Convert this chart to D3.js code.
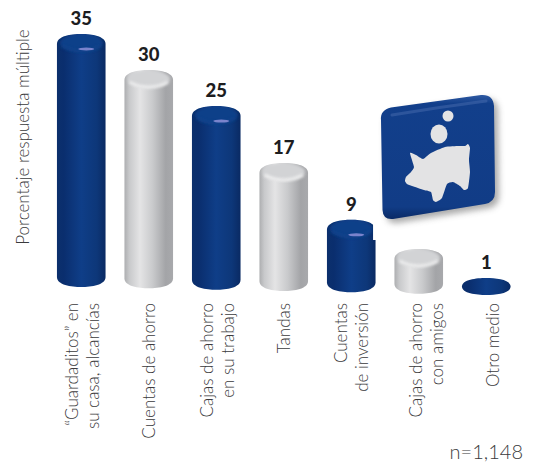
<!DOCTYPE html>
<html>
<head>
<meta charset="utf-8">
<script src="https://cdn.jsdelivr.net/npm/d3@7"></script>
<style>
  html, body { margin: 0; padding: 0; background: #fff; }
  svg { display: block; }
  text { font-family: Lato, "Open Sans", sans-serif; }
</style>
</head>
<body>
<div id="chart"></div>
<script>
// Savings methods, multiple-response percentages
const categories = [
  ["\u201CGuardaditos\u201D en", "su casa, alcancías"],
  ["Cuentas de ahorro"],
  ["Cajas de ahorro", "en su trabajo"],
  ["Tandas"],
  ["Cuentas", "de inversión"],
  ["Cajas de ahorro", "con amigos"],
  ["Otro medio"]
];
const values = [35, 30, 25, 17, 9, 5, 1];
const seriesTone = ["blue", "grey", "blue", "grey", "blue", "grey", "blue"];
const yAxisTitle = "Porcentaje respuesta múltiple";
const sampleNote = "n=1,148";

const width = 533, height = 462;
const svg = d3.select("#chart").append("svg")
  .attr("width", width).attr("height", height);
const defs = svg.append("defs");

// The row of cylinders sits on a slightly tilted floor
const x = d3.scaleBand().domain(d3.range(values.length)).range([47.5, 520]).paddingInner(0.28).paddingOuter(0.14);
const floor = d3.scaleLinear().domain([0, values.length - 1]).range([287, 295]);
const barHeight = d3.scaleLinear().domain([0, 35]).range([10, 253]);

function hGradient(id, stops) {
  const g = defs.append("linearGradient").attr("id", id)
    .attr("x1", 0).attr("x2", 1).attr("y1", 0).attr("y2", 0);
  stops.forEach(([o, c]) => g.append("stop").attr("offset", o).attr("stop-color", c));
}
hGradient("body-blue", [[0, "#0b2f6c"], [0.14, "#0a2e6e"], [0.5, "#0f3e88"], [0.82, "#0d3779"], [1, "#0a2a63"]]);
hGradient("body-grey", [[0, "#adaeb0"], [0.1, "#c8c9cb"], [0.32, "#e4e4e5"], [0.58, "#c9cacc"], [0.85, "#a3a4a7"], [1, "#a8a9ac"]]);

const softEdge = defs.append("filter").attr("id", "soft").attr("x", "-20%").attr("y", "-60%").attr("width", "140%").attr("height", "220%");
softEdge.append("feGaussianBlur").attr("stdDeviation", 1.6);

const capColors = {
  blue: { face: "#114089", rim: "#14468f", rimOpacity: 0.55, streak: "#8d8fd8" },
  grey: { face: "#d2d3d5", rim: "#f4f4f4", rimOpacity: 0.95, streak: null }
};

const bars = svg.append("g").selectAll("g")
  .data(values.map((v, i) => ({ v, i, tone: seriesTone[i], cat: categories[i] })))
  .join("g");

// Cylinder outline: soft dome on top, shallower curve at the foot
function cylinderPath(cx, rx, top, bottom, ry) {
  const k = 0.2 * ry, s = 0.42 * rx;
  return `M${cx - rx},${top + ry}` +
    `C${cx - rx},${top + k} ${cx - s},${top} ${cx},${top}` +
    `C${cx + s},${top} ${cx + rx},${top + k} ${cx + rx},${top + ry}` +
    `L${cx + rx},${bottom - ry}` +
    `C${cx + rx},${bottom - k} ${cx + s},${bottom} ${cx},${bottom}` +
    `C${cx - s},${bottom} ${cx - rx},${bottom - k} ${cx - rx},${bottom - ry}Z`;
}

bars.each(function (d) {
  const g = d3.select(this);
  const cx = x(d.i) + x.bandwidth() / 2;
  const rx = x.bandwidth() / 2;
  const bottom = floor(d.i);
  const top = bottom - barHeight(d.v);
  const ry = Math.min(10, (bottom - top) / 2);
  const outline = cylinderPath(cx, rx, top, bottom, ry);
  const clipId = `clip-bar-${d.i}`;
  defs.append("clipPath").attr("id", clipId).append("path").attr("d", outline);
  g.append("path").attr("d", outline).attr("fill", `url(#body-${d.tone})`);

  d.top = top; d.cx = cx;
  if (d.v <= 1) return;   // the flattest bar is only a disc

  // Top face, with a soft light arc along its lower edge
  const colors = capColors[d.tone];
  const cap = g.append("g").attr("clip-path", `url(#${clipId})`);
  cap.append("ellipse")
    .attr("cx", cx).attr("cy", top + ry - 1).attr("rx", rx - 3).attr("ry", ry - 1)
    .attr("fill", colors.face).attr("filter", "url(#soft)");
  cap.append("path")
    .attr("d", `M${cx - rx + 5},${top + ry + 2}Q${cx},${top + 2.1 * ry + 1} ${cx + rx - 5},${top + ry + 2}`)
    .attr("fill", "none").attr("stroke", colors.rim).attr("stroke-width", 2.6)
    .attr("opacity", colors.rimOpacity).attr("filter", "url(#soft)");
  if (colors.streak) {
    g.append("ellipse")
      .attr("cx", cx + 5).attr("cy", top + 15).attr("rx", 8).attr("ry", 1.5)
      .attr("fill", colors.streak).attr("opacity", 0.85);
  }
});

// Badge with the piggy bank
const badge = svg.append("g");
const shadowFilter = defs.append("filter").attr("id", "badge-shadow")
  .attr("x", "-20%").attr("y", "-20%").attr("width", "140%").attr("height", "140%");
shadowFilter.append("feGaussianBlur").attr("stdDeviation", 3);
const bevel = defs.append("linearGradient").attr("id", "badge-fill")
  .attr("x1", 0).attr("y1", 0).attr("x2", 0).attr("y2", 1);
[[0, "#2f5aa3"], [0.07, "#123f8b"], [0.9, "#113c86"], [1, "#0a2a66"]]
  .forEach(([o, c]) => bevel.append("stop").attr("offset", o).attr("stop-color", c));
const badgeOutline = "M381,120 Q380,110 391,107.5 L481,95 Q493,94 494,106 L495,192 Q495,202 485,204 L393,219 Q383,220 382.5,210 Z";
badge.append("path").attr("d", badgeOutline).attr("fill", "#555")
  .attr("opacity", 0.5).attr("transform", "translate(4,4)").attr("filter", "url(#badge-shadow)");
badge.append("path").attr("d", badgeOutline).attr("fill", "url(#badge-fill)");
badge.append("path").attr("d", "M392,115 Q440,107 486,101")
  .attr("fill", "none").attr("stroke", "#4468ac").attr("stroke-width", 3)
  .attr("stroke-linecap", "round").attr("opacity", 0.55);
badge.append("ellipse").attr("cx", 439).attr("cy", 134).attr("rx", 8.5).attr("ry", 9.5).attr("fill", "#e3e3e4");
badge.append("ellipse").attr("cx", 448).attr("cy", 116).attr("rx", 5.5).attr("ry", 5.5).attr("fill", "#e3e3e4");
const pigOutline = [[405, 181], [406, 177], [411, 172], [414, 167], [410, 153], [416, 155], [423, 159], [431, 153], [445, 147], [459, 146], [465, 146], [468, 144], [470, 148], [469, 160], [470, 172], [468, 188], [464, 190], [460, 186], [453, 182], [447, 184], [442, 198], [436, 202], [433, 200], [431, 192], [424, 190], [412, 186], [407, 184]];
badge.append("path")
  .attr("d", d3.line().curve(d3.curveCardinalClosed.tension(0.5))(pigOutline))
  .attr("fill", "#e3e3e4");

// Value labels; only the foot of the "5" shows below the white panel
defs.append("clipPath").attr("id", "under-badge").append("rect")
  .attr("x", 380).attr("y", 242).attr("width", 80).attr("height", 30);
svg.append("g").selectAll("text")
  .data(bars.data())
  .join("text")
  .attr("x", d => d.cx)
  .attr("y", d => d.top - 9)
  .attr("text-anchor", "middle")
  .attr("font-size", 18.5)
  .attr("font-weight", 900)
  .attr("fill", "#1d1d1f")
  .attr("clip-path", d => d.v === 5 ? "url(#under-badge)" : null)
  .text(d => d.v);

// Small nick on the right side of the blue "9" cylinder
svg.append("rect").attr("x", x(4) + x.bandwidth() - 2.5).attr("y", 215).attr("width", 5).attr("height", 25).attr("fill", "#fff");

// Category labels read bottom-to-top, ending just under the floor
const labelNudge = [1, 0, 1, 0, 0, 8, 7];
bars.each(function (d) {
  const t = d3.select(this).append("text")
    .attr("transform", `translate(${d.cx + labelNudge[d.i]},303) rotate(-90)`)
    .attr("text-anchor", "end")
    .attr("font-size", 17)
    .attr("font-weight", 300)
    .attr("fill", "#3a3a3c");
  const n = d.cat.length;
  d.cat.forEach((line, j) => {
    t.append("tspan").attr("x", 0)
      .attr("y", (j - (n - 1) / 2) * 21 + 6)
      .text(line);
  });
});

svg.append("text")
  .attr("transform", "translate(29,137) rotate(-90)")
  .attr("text-anchor", "middle")
  .attr("font-size", 17).attr("font-weight", 300).attr("fill", "#3a3a3c")
  .text(yAxisTitle);

svg.append("text")
  .attr("x", 523).attr("y", 459)
  .attr("text-anchor", "end")
  .attr("font-size", 20).attr("font-weight", 300).attr("fill", "#3a3a3c")
  .text(sampleNote);
</script>
</body>
</html>
